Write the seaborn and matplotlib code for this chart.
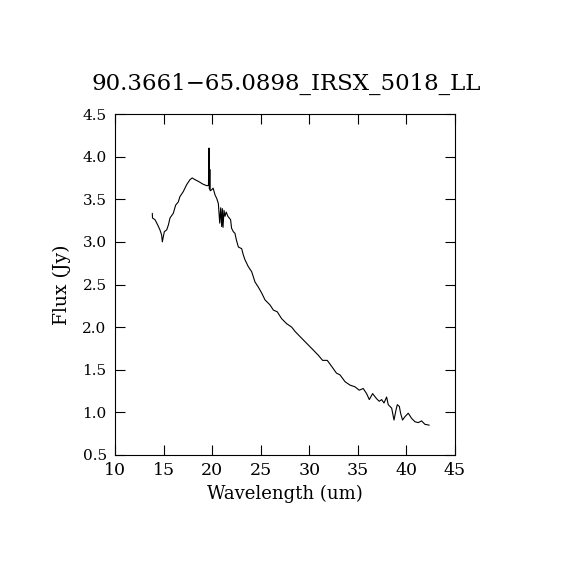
import matplotlib
matplotlib.use("Agg")
import matplotlib.pyplot as plt
import seaborn as sns
import pandas as pd

title = "90.3661\u221265.0898_IRSX_5018_LL"

wavelength = [13.84, 13.86, 14.12, 14.39, 14.63, 14.80, 14.87, 15.08, 15.32, 15.50,
              15.66, 16.00, 16.24, 16.52, 16.68, 17.03, 17.37, 17.72, 17.95, 18.23,
              18.58, 19.09, 19.44, 19.62, 19.68, 19.72, 19.76, 19.80, 19.94, 20.10,
              20.30, 20.47, 20.64, 20.78, 20.88, 20.98, 21.05, 21.12, 21.22, 21.32,
              21.45, 21.62, 21.90, 22.00, 22.18, 22.35, 22.50, 22.70, 23.04, 23.20,
              23.38, 23.72, 24.07, 24.41, 24.75, 25.10, 25.44, 25.96, 26.30, 26.70,
              27.15, 27.67, 28.19, 28.53, 29.04, 29.73, 30.42, 30.93, 31.37, 31.85,
              32.30, 32.80, 33.16, 33.68, 34.19, 34.70, 35.14, 35.55, 35.90, 36.18,
              36.52, 36.93, 37.20, 37.45, 37.69, 37.96, 38.13, 38.48, 38.72, 38.93,
              39.06, 39.27, 39.40, 39.60, 39.85, 40.19, 40.53, 40.88, 41.22, 41.56,
              41.90, 42.35]
flux = [3.335, 3.28, 3.26, 3.20, 3.14, 3.08, 3.00, 3.12, 3.14, 3.20,
        3.28, 3.335, 3.43, 3.47, 3.53, 3.59, 3.67, 3.73, 3.75, 3.73,
        3.71, 3.675, 3.66, 3.66, 4.10, 3.62, 3.85, 3.60, 3.61, 3.63,
        3.55, 3.51, 3.45, 3.22, 3.40, 3.18, 3.39, 3.17, 3.37, 3.30,
        3.35, 3.30, 3.26, 3.16, 3.12, 3.10, 3.02, 2.94, 2.92, 2.85,
        2.79, 2.71, 2.65, 2.53, 2.47, 2.40, 2.32, 2.26, 2.20, 2.18,
        2.10, 2.04, 2.00, 1.95, 1.89, 1.81, 1.73, 1.67, 1.61, 1.61,
        1.54, 1.46, 1.44, 1.36, 1.32, 1.30, 1.26, 1.28, 1.22, 1.15,
        1.22, 1.16, 1.13, 1.15, 1.11, 1.18, 1.09, 1.05, 0.91, 1.03,
        1.09, 1.07, 0.99, 0.91, 0.95, 0.99, 0.93, 0.89, 0.88, 0.90,
        0.86, 0.85]

xticks = [10, 15, 20, 25, 30, 35, 40, 45]
yticks = [0.5, 1.0, 1.5, 2.0, 2.5, 3.0, 3.5, 4.0, 4.5]

sns.set_style("ticks")
plt.rcParams['font.family'] = ['DejaVu Serif']
plt.rcParams['text.color'] = 'black'
plt.rcParams['axes.labelcolor'] = 'black'

df = pd.DataFrame({"Wavelength": wavelength, "Flux": flux})

fig = plt.figure(figsize=(5.7, 5.7), dpi=100)
ax = fig.add_axes([115/570, 1-455/570, 340/570, 341/570])
sns.lineplot(data=df, x="Wavelength", y="Flux", sort=False, estimator=None,
             color="black", linewidth=0.8, ax=ax)

ax.set_xlim(10, 45)
ax.set_ylim(0.5, 4.5)
ax.set_xticks(xticks)
ax.set_yticks(yticks)
ax.set_xticklabels([str(t) for t in xticks], fontsize=12.5)
ax.set_yticklabels([f"{t:.1f}" for t in yticks], fontsize=11)
ax.tick_params(direction="in", length=7, width=0.8, top=True, right=True,
               colors="black", labelcolor="black")
ax.tick_params(axis="y", pad=6)
ax.tick_params(axis="x", pad=5)
for s in ax.spines.values():
    s.set_linewidth(0.8)
    s.set_color("black")
ax.set_xlabel("Wavelength (um)", fontsize=13, labelpad=4)
ax.set_ylabel("Flux (Jy)", fontsize=13.5, labelpad=8)
fig.text(286/570, 1-84/570, title, ha="center", va="center", fontsize=16.5,
         color="black")

fig.savefig("out.png", dpi=100, facecolor="white")
